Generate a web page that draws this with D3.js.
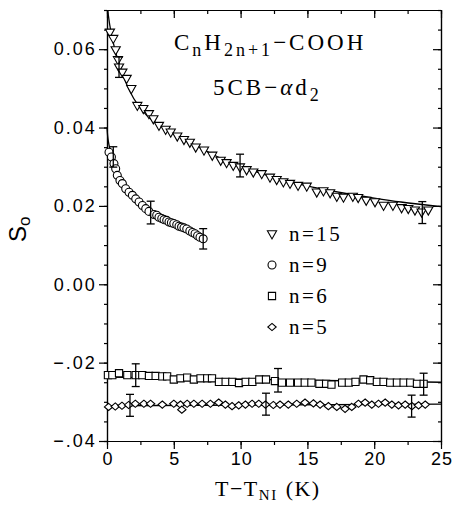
<!DOCTYPE html>
<meta charset="utf-8">
<style type="text/css">
  body { margin: 0; background: #fff; }
  .axis path, .axis line { stroke: #000; stroke-width: 1.2px; }
  .axis text { font-family: "Liberation Sans", sans-serif; font-size: 18px; letter-spacing: 2px; fill: #000; }
  .serif { font-family: "Liberation Serif", serif; fill: #000; }
</style>
<body></body>
<script src="https://d3js.org/d3.v7.min.js"></script>
<script>
  // n=15 (triangles)
  var t15 = [0.22, 0.47, 0.65, 0.82, 0.90, 1.15, 1.47, 1.82, 2.27, 2.72, 3.14, 3.47, 3.89, 4.39, 4.77, 5.26, 5.76, 6.20, 6.64, 7.26, 7.88, 8.51, 8.95, 9.45, 9.95, 10.45, 10.95, 11.58, 12.2, 12.7, 13.2, 13.7, 14.3, 14.95, 15.7, 16.2, 16.7, 17.2, 17.7, 18.4, 18.8, 19.4, 20.06, 20.7, 21.4, 22.05, 22.55, 23.05, 23.55, 24.05];
  var s15 = [0.0643, 0.0627, 0.0598, 0.0573, 0.0554, 0.0541, 0.0525, 0.0499, 0.0456, 0.0448, 0.0435, 0.0422, 0.0405, 0.0395, 0.0388, 0.0378, 0.0369, 0.0362, 0.0350, 0.0342, 0.0329, 0.0316, 0.0310, 0.0303, 0.0299, 0.0292, 0.0286, 0.0282, 0.0273, 0.0267, 0.0261, 0.0257, 0.0252, 0.0250, 0.0235, 0.0238, 0.0233, 0.0224, 0.0222, 0.0224, 0.0221, 0.0214, 0.0210, 0.0201, 0.0201, 0.0195, 0.0193, 0.0189, 0.0184, 0.0189];
  // n=9 (circles)
  var t9 = [0.15, 0.33, 0.52, 0.65, 0.77, 0.97, 1.15, 1.40, 1.65, 1.90, 2.15, 2.40, 2.65, 2.90, 3.14, 3.52, 3.72, 3.89, 4.10, 4.27, 4.47, 4.64, 4.82, 5.00, 5.22, 5.39, 5.58, 5.76, 5.97, 6.20, 6.40, 6.59, 6.78, 6.96, 7.20];
  var s9 = [0.0337, 0.0325, 0.0308, 0.0295, 0.0278, 0.0265, 0.0257, 0.0244, 0.0235, 0.0227, 0.0218, 0.0210, 0.0201, 0.0193, 0.0186, 0.0178, 0.0176, 0.0171, 0.0168, 0.0165, 0.0163, 0.0159, 0.0157, 0.0155, 0.0152, 0.0148, 0.0146, 0.0144, 0.0141, 0.0136, 0.0132, 0.0129, 0.0124, 0.0120, 0.0116];
  // n=6 (squares)
  var t6 = [0.07, 0.40, 0.90, 1.52, 2.15, 2.64, 3.14, 3.64, 4.14, 4.50, 5.00, 5.50, 6.00, 6.50, 7.00, 7.50, 7.86, 8.38, 8.88, 9.38, 9.88, 10.38, 10.88, 11.40, 11.90, 12.57, 13.1, 13.7, 14.3, 14.8, 15.3, 15.9, 16.4, 16.8, 17.6, 18.1, 18.6, 19.2, 19.7, 20.2, 20.7, 21.2, 21.7, 22.2, 22.7, 23.2, 23.7];
  var s6 = [-0.0232, -0.0232, -0.0227, -0.0232, -0.0232, -0.0232, -0.0234, -0.0234, -0.0235, -0.0235, -0.0243, -0.0240, -0.0238, -0.0243, -0.0240, -0.0240, -0.0240, -0.0249, -0.0249, -0.0249, -0.0252, -0.0249, -0.0249, -0.0243, -0.0243, -0.0247, -0.0251, -0.0251, -0.0251, -0.0251, -0.0251, -0.0254, -0.0254, -0.0256, -0.0251, -0.0251, -0.0249, -0.0243, -0.0245, -0.0249, -0.0249, -0.0251, -0.0251, -0.0251, -0.0251, -0.0254, -0.0254];
  // n=5 (diamonds)
  var t5 = [0.12, 0.62, 1.12, 1.62, 2.12, 2.76, 3.26, 4.14, 5.00, 5.50, 5.60, 6.00, 6.50, 7.12, 7.74, 8.36, 8.86, 9.36, 9.86, 10.36, 10.86, 11.36, 11.86, 12.45, 12.95, 13.57, 14.20, 14.82, 15.45, 15.95, 16.57, 17.20, 17.82, 18.32, 18.82, 19.32, 19.82, 20.32, 20.82, 21.32, 21.82, 22.32, 22.82, 23.32, 23.82];
  var s5 = [-0.0313, -0.0312, -0.0310, -0.0308, -0.0305, -0.0305, -0.0305, -0.0307, -0.0305, -0.0307, -0.0320, -0.0305, -0.0305, -0.0305, -0.0305, -0.0302, -0.0307, -0.0311, -0.0309, -0.0307, -0.0305, -0.0305, -0.0307, -0.0308, -0.0307, -0.0307, -0.0305, -0.0302, -0.0304, -0.0307, -0.0311, -0.0313, -0.0318, -0.0313, -0.0305, -0.0302, -0.0307, -0.0305, -0.0302, -0.0307, -0.0309, -0.0307, -0.0311, -0.0309, -0.0307];

  // fitted curves
  var fit15T = [0.05, 0.2, 0.5, 1, 1.5, 2, 3, 4, 5, 6, 7, 8, 10, 12, 14, 16, 18, 20, 22, 25];
  var fit15S = [0.0700, 0.0663, 0.0612, 0.0552, 0.0508, 0.0474, 0.0430, 0.0405, 0.0385, 0.0365, 0.0348, 0.0330, 0.0300, 0.0278, 0.0259, 0.0244, 0.0231, 0.0220, 0.0210, 0.0198];
  var fit9T = [0, 0.05, 0.15, 0.3, 0.5, 0.75, 1, 1.5, 2, 2.5, 3, 4, 5, 6, 7.2];
  var fit9S = [0.0400, 0.0378, 0.0356, 0.0334, 0.0312, 0.0290, 0.0272, 0.0245, 0.0224, 0.0207, 0.0193, 0.0171, 0.0153, 0.0137, 0.0117];
  var fit6T = [0, 25];
  var fit6S = [-0.0237, -0.0250];
  var fit5T = [0, 25];
  var fit5S = [-0.0310, -0.0306];

  // error bars: position, centre, half width
  var errT = [0.9, 9.96, 23.6, 0.47, 3.27, 7.2, 2.15, 12.8, 23.7, 1.72, 11.9, 22.8];
  var errS = [0.0554, 0.0303, 0.0183, 0.0325, 0.0183, 0.0116, -0.0232, -0.0245, -0.0255, -0.0309, -0.0306, -0.0311];
  var errD = [0.0026, 0.0029, 0.0028, 0.0026, 0.0029, 0.0026, 0.0029, 0.0030, 0.0028, 0.0028, 0.0028, 0.0028];

  var yTicks = [0.06, 0.04, 0.02, 0.00, -0.02, -0.04];
  var yTickLabels = ["0.06", "0.04", "0.02", "0.00", "\u2212.02", "\u2212.04"];
  var xTicks = [0, 5, 10, 15, 20, 25];
  var legendLabels = ["n=15", "n=9", "n=6", "n=5"];

  var margin = { top: 10, right: 11, bottom: 64, left: 107 },
    width = 452 - margin.left - margin.right,
    height = 505 - margin.top - margin.bottom;

  var x = d3.scaleLinear().domain([0, 25]).range([0, width]);
  var y = d3.scaleLinear().domain([-0.04, 0.07]).range([height, 0]);

  var svg = d3.select("body").append("svg")
    .attr("width", 452)
    .attr("height", 505);

  svg.append("rect").attr("width", 452).attr("height", 505).attr("fill", "#fff");

  var g = svg.append("g")
    .attr("transform", "translate(" + margin.left + "," + margin.top + ")");

  var yMinor = d3.range(-0.04, 0.0701, 0.005);
  var xMinor = d3.range(0, 25.01, 2.5);

  // minor ticks
  g.append("g").attr("class", "axis")
    .call(d3.axisLeft(y).tickValues(yMinor).tickSize(3).tickSizeOuter(0).tickFormat(""));
  g.append("g").attr("class", "axis")
    .attr("transform", "translate(" + width + ",0)")
    .call(d3.axisRight(y).tickValues(yMinor).tickSize(-3).tickSizeOuter(0).tickFormat(""));
  g.append("g").attr("class", "axis")
    .attr("transform", "translate(0," + height + ")")
    .call(d3.axisBottom(x).tickValues(xMinor).tickSize(4).tickSizeOuter(0).tickFormat(""));
  g.append("g").attr("class", "axis")
    .call(d3.axisTop(x).tickValues(xMinor).tickSize(-4).tickSizeOuter(0).tickFormat(""));

  // major ticks
  g.append("g").attr("class", "axis")
    .call(d3.axisLeft(y).tickValues(yTicks).tickSize(8).tickSizeOuter(0).tickPadding(4)
      .tickFormat(function(d, i) { return yTickLabels[i]; }))
    .selectAll("text").attr("dx", "0.1em");
  g.append("g").attr("class", "axis")
    .attr("transform", "translate(" + width + ",0)")
    .call(d3.axisRight(y).tickValues(yTicks).tickSize(-8).tickSizeOuter(0).tickFormat(""));
  g.append("g").attr("class", "axis xlab")
    .attr("transform", "translate(0," + height + ")")
    .call(d3.axisBottom(x).tickValues(xTicks).tickSize(8).tickSizeOuter(0).tickPadding(3)
      .tickFormat(function(d) { return d; }))
    .selectAll("text").style("letter-spacing", "1px").attr("dx", "0.03em");
  g.append("g").attr("class", "axis")
    .call(d3.axisTop(x).tickValues(xTicks).tickSize(-8).tickSizeOuter(0).tickFormat(""));

  // fitted lines
  var line = d3.line()
    .x(function(d) { return x(d[0]); })
    .y(function(d) { return y(d[1]); })
    .curve(d3.curveMonotoneX);

  [[fit15T, fit15S], [fit9T, fit9S], [fit6T, fit6S], [fit5T, fit5S]].forEach(function(f) {
    g.append("path")
      .datum(d3.zip(f[0], f[1]))
      .attr("fill", "none")
      .attr("stroke", "#000")
      .attr("stroke-width", 1.3)
      .attr("d", line);
  });

  // marker shapes
  var shapes = {
    tri: "M-4.6,-3.2L4.6,-3.2L0,4.9Z",
    circ: d3.symbol().type(d3.symbolCircle).size(50)(),
    sq: "M-3.6,-3.6L3.6,-3.6L3.6,3.6L-3.6,3.6Z",
    dia: "M0,-3.6L4.2,0L0,3.6L-4.2,0Z"
  };

  function drawPoints(ts, ss, shape) {
    g.append("g").selectAll("path")
      .data(d3.zip(ts, ss))
      .enter().append("path")
      .attr("transform", function(d) { return "translate(" + x(d[0]) + "," + y(d[1]) + ")"; })
      .attr("d", shape)
      .attr("fill", "#fff")
      .attr("stroke", "#000")
      .attr("stroke-width", 1.1);
  }
  drawPoints(t15, s15, shapes.tri);
  drawPoints(t9, s9, shapes.circ);
  drawPoints(t6, s6, shapes.sq);
  drawPoints(t5, s5, shapes.dia);

  // error bars
  var eb = g.append("g").attr("stroke", "#000").attr("stroke-width", 1.3);
  errT.forEach(function(t, i) {
    var cx = x(t), y0 = y(errS[i] - errD[i]), y1 = y(errS[i] + errD[i]);
    eb.append("line").attr("x1", cx).attr("x2", cx).attr("y1", y0).attr("y2", y1);
    eb.append("line").attr("x1", cx - 4).attr("x2", cx + 4).attr("y1", y0).attr("y2", y0);
    eb.append("line").attr("x1", cx - 4).attr("x2", cx + 4).attr("y1", y1).attr("y2", y1);
  });

  // legend
  var legendShapes = [shapes.tri, shapes.circ, shapes.sq, shapes.dia];
  var legend = svg.append("g");
  legendLabels.forEach(function(lab, i) {
    var ly = 236 + i * 31;
    legend.append("path")
      .attr("transform", "translate(272," + (ly - 2) + ")")
      .attr("d", legendShapes[i])
      .attr("fill", "#fff").attr("stroke", "#000").attr("stroke-width", 1.1);
    legend.append("text")
      .attr("class", "serif")
      .attr("x", 289).attr("y", ly + 5)
      .style("font-size", "21px")
      .style("letter-spacing", "2.5px")
      .text(lab);
  });

  // annotations
  var a1 = svg.append("text").attr("class", "serif")
    .attr("x", 174).attr("y", 50)
    .style("font-size", "23px").style("letter-spacing", "3px");
  a1.append("tspan").text("C");
  a1.append("tspan").attr("dy", 6).style("font-size", "18px").text("n");
  a1.append("tspan").attr("dy", -6).text("H");
  a1.append("tspan").attr("dy", 6).style("font-size", "18px").text("2n+1");
  a1.append("tspan").attr("dy", -6).text("\u2212COOH");

  var a2 = svg.append("text").attr("class", "serif")
    .attr("x", 213).attr("y", 95)
    .style("font-size", "23px").style("letter-spacing", "3px");
  a2.append("tspan").text("5CB\u2212");
  a2.append("tspan").style("font-style", "italic").text("\u03b1");
  a2.append("tspan").text("d");
  a2.append("tspan").attr("dy", 6).style("font-size", "18px").text("2");

  // axis titles
  var yt = svg.append("text")
    .attr("transform", "translate(26,242) rotate(-90)")
    .style("font-family", "Liberation Sans, sans-serif")
    .style("font-size", "24px");
  yt.append("tspan").text("S");
  yt.append("tspan").attr("dy", 4).style("font-size", "17px").text("o");

  var xt = svg.append("text").attr("class", "serif")
    .attr("x", 215).attr("y", 496)
    .style("font-size", "22px").style("letter-spacing", "1.5px");
  xt.append("tspan").text("T\u2212T");
  xt.append("tspan").attr("dy", 4).style("font-size", "15px").text("NI");
  xt.append("tspan").attr("dy", -4).attr("dx", 8).text("(K)");
</script>
